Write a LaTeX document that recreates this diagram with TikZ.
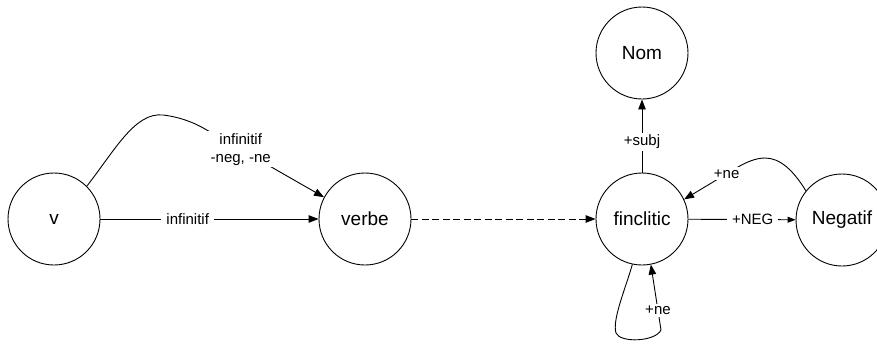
\documentclass[tikz,border=0pt]{standalone}
\usepackage{fontspec}
\setmainfont{Liberation Sans}
\usetikzlibrary{arrows.meta}
\begin{document}
\begin{tikzpicture}[x=1pt,y=-1pt, line width=0.9pt,
  state/.style={circle, draw, minimum size=92pt, inner sep=0pt, font=\fontsize{19}{22}\selectfont},
  lbl/.style={fill=white, inner xsep=5pt, inner ysep=2pt, font=\fontsize{15}{18}\selectfont, align=center},
  arr/.style={-{Triangle[length=10pt,width=7.5pt]}},
  sarr/.style={-{Triangle[length=8pt,width=6pt]}}]
\useasboundingbox (0,0) rectangle (877,343);
\node[state] (v) at (54,219) {v};
\node[state] (verbe) at (365,219) {verbe};
\node[state] (fin) at (642,219) {finclitic};
\node[state] (nom) at (642,53) {Nom};
\node[state] (neg) at (842,220) {Negatif};
% v -> verbe straight
\draw[arr] (v) -- node[lbl,pos=0.4]{infinitif} (verbe);
% v -> verbe curved
\draw[arr] (v.45) .. controls (115,150) and (135,112) .. (163,115)
  .. controls (180,117) and (195,123) .. (205,129)
  -- node[lbl,pos=0.3]{infinitif\\-neg, -ne} (verbe.152);
% verbe -> finclitic dashed
\draw[arr,dash pattern=on 7pt off 3.5pt] (verbe) -- (fin);
% finclitic -> Nom
\draw[arr] (fin) -- node[lbl,pos=0.42]{+subj} (nom);
% finclitic -> Negatif
\draw[sarr] (fin) -- node[lbl,pos=0.6]{+NEG} (neg);
% Negatif -> finclitic
\draw[arr] (neg.141) .. controls (793,170) and (780,158) .. (765,158)
  .. controls (755,158) and (745,163) .. (738,167)
  -- node[lbl,pos=0.21,inner xsep=2pt]{+ne} (fin.25);
% self loop
\draw[arr] (fin.258) .. controls (625,290) and (612,320) .. (616,333)
  .. controls (620,343) and (655,342) .. (661,330)
  -- node[lbl,pos=0.3,inner xsep=2pt]{+ne} (fin.281);
\end{tikzpicture}
\end{document}
